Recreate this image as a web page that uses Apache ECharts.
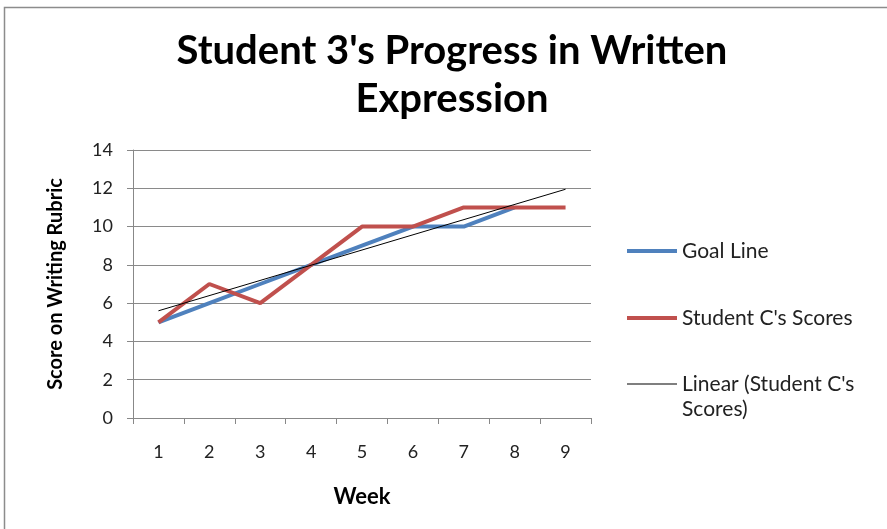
<!DOCTYPE html>
<html>
<head>
<meta charset="utf-8">
<script src="https://cdn.jsdelivr.net/npm/echarts@6/dist/echarts.min.js"></script>
<style>
  html, body { margin: 0; padding: 0; background: #fff; }
  #chart { width: 887px; height: 529px; }
</style>
</head>
<body>
<div id="chart"></div>
<script>
var weeks = ['1', '2', '3', '4', '5', '6', '7', '8', '9'];
var goalLine = [5, 6, 7, 8, 9, 10, 10, 11, null];
var studentScores = [5, 7, 6, 8, 10, 10, 11, 11, 11];
// trend line end points
var trendWeeks = ['1', '9'];
var trendValues = [5.6, 11.95];
var yTicks = { min: 0, max: 14, interval: 2 };

var fontName = 'Lato';
var legendFont = 21;
var chart = echarts.init(document.getElementById('chart'));

function legendAt(name, top, iconHeight) {
  return {
    data: [name],
    orient: 'vertical',
    left: 627,
    top: top,
    padding: 0,
    icon: 'rect',
    itemWidth: 50,
    itemHeight: iconHeight,
    textStyle: { fontFamily: fontName, fontSize: legendFont, color: '#222', lineHeight: 24 }
  };
}

chart.setOption({
  animation: false,
  backgroundColor: '#fff',
  title: {
    text: "Student 3's Progress in Written\nExpression",
    left: 447,
    textAlign: 'center',
    top: 22,
    textStyle: { fontFamily: fontName, fontWeight: 'bold', fontSize: 40, lineHeight: 48, color: '#000' }
  },
  legend: [
    legendAt('Goal Line', 239, 4),
    legendAt("Student C's Scores", 306, 4),
    legendAt("Linear (Student C's Scores)", 372, 1)
  ],
  grid: { left: 133, right: 296, top: 150, bottom: 111, containLabel: false },
  xAxis: {
    type: 'category',
    data: weeks,
    boundaryGap: true,
    name: 'Week',
    nameLocation: 'middle',
    nameGap: 68,
    nameTextStyle: { fontFamily: fontName, fontWeight: 'bold', fontSize: 22, color: '#000' },
    axisLine: { lineStyle: { color: '#888', width: 1 } },
    axisTick: { show: true, length: 6, inside: false, alignWithLabel: false, lineStyle: { color: '#888' } },
    axisLabel: { margin: 25, fontFamily: fontName, fontSize: 18, color: '#222' },
    splitLine: { show: false }
  },
  yAxis: {
    type: 'value',
    min: yTicks.min,
    max: yTicks.max,
    interval: yTicks.interval,
    name: 'Score on Writing Rubric',
    nameLocation: 'middle',
    nameRotate: 90,
    nameGap: 67,
    nameTextStyle: { fontFamily: fontName, fontWeight: 'bold', fontSize: 20, color: '#000' },
    axisLine: { show: true, lineStyle: { color: '#888', width: 1 } },
    axisTick: { show: true, length: 6, lineStyle: { color: '#888' } },
    axisLabel: { margin: 20, fontFamily: fontName, fontSize: 18, color: '#222' },
    splitLine: { show: true, lineStyle: { color: '#8a8a8a', width: 1 } }
  },
  graphic: [
    {
      type: 'rect',
      shape: { x: 4.5, y: 7.5, width: 900, height: 600 },
      style: { fill: 'none', stroke: '#8c8c8c', lineWidth: 1.5 },
      silent: true
    },
    {
      // second line of the trend legend label
      type: 'text',
      left: 682,
      top: 399,
      style: { text: 'Scores)', fontFamily: fontName, fontSize: legendFont, fill: '#222' },
      silent: true
    }
  ],
  series: [
    {
      name: 'Goal Line',
      type: 'line',
      data: goalLine,
      symbol: 'none',
      lineStyle: { color: '#4F81BD', width: 4 },
      itemStyle: { color: '#4F81BD' },
      z: 2
    },
    {
      name: "Student C's Scores",
      type: 'line',
      data: studentScores,
      symbol: 'none',
      lineStyle: { color: '#C0504D', width: 4 },
      itemStyle: { color: '#C0504D' },
      z: 3
    },
    {
      name: "Linear (Student C's Scores)",
      type: 'line',
      data: trendWeeks.map(function (w, i) { return [w, trendValues[i]]; }),
      symbol: 'none',
      lineStyle: { color: '#000', width: 1 },
      itemStyle: { color: '#000' },
      z: 4
    }
  ]
});

chart.setOption({
  legend: [{}, {}, {
    formatter: function () { return "Linear (Student C's"; }
  }]
});
</script>
</body>
</html>
